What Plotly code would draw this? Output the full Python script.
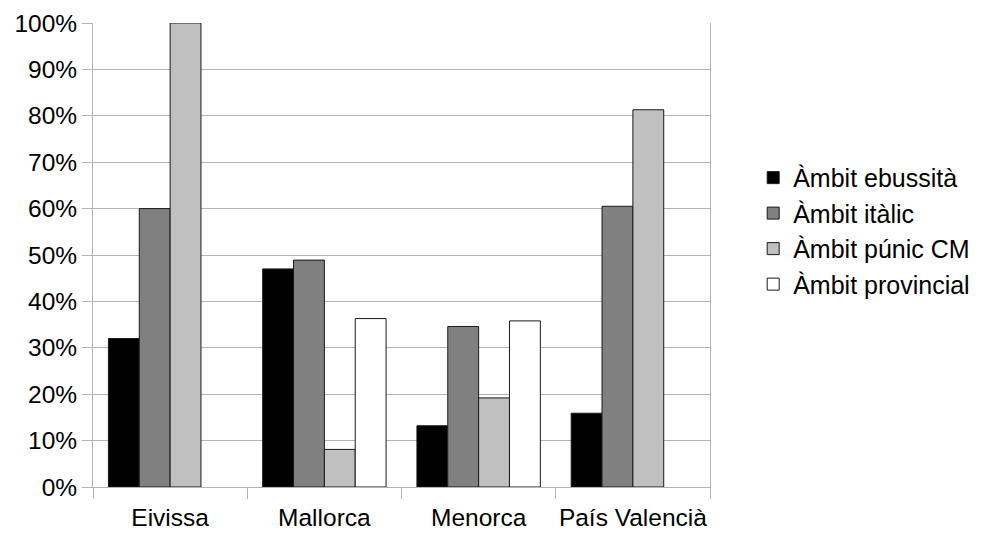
import plotly.graph_objects as go

categories = ["Eivissa", "Mallorca", "Menorca", "País Valencià"]
series_names = ["Àmbit ebussità", "Àmbit itàlic", "Àmbit púnic CM", "Àmbit provincial"]
ebussita = [32.0, 47.0, 13.2, 15.9]
italic = [60.0, 48.9, 34.6, 60.5]
punic = [100.0, 8.1, 19.2, 81.3]
provincial = [None, 36.3, 35.8, None]
colors = ["#000000", "#808080", "#c0c0c0", "#ffffff"]
y_ticks = list(range(0, 101, 10))
y_tick_labels = [f"{v}%" for v in y_ticks]

fig = go.Figure()
for name, vals, col in zip(series_names, [ebussita, italic, punic, provincial], colors):
    fig.add_trace(go.Bar(
        x=categories, y=vals, name=name,
        marker=dict(color=col, line=dict(color="#1a1a1a", width=1)),
    ))

fam = "Liberation Sans, Arial, sans-serif"
font = dict(family=fam, size=24.5, color="#000000")
fig.update_layout(
    width=975, height=525,
    margin=dict(l=85, r=273, t=15, b=46, autoexpand=False),
    paper_bgcolor="white", plot_bgcolor="white",
    barmode="group", bargap=0.2, bargroupgap=0,
    font=font,
    showlegend=True,
    legend=dict(x=1.07, y=0.552, xanchor="left", yanchor="middle",
                font=dict(family=fam, size=25, color="#000000"),
                itemclick=False, tracegroupgap=0),
    xaxis=dict(
        showline=True, linecolor="#b3b3b3", linewidth=1,
        ticks="outside", tickson="boundaries", ticklen=11, tickcolor="#b3b3b3",
        showgrid=False, tickfont=font, tickangle=0, ticklabelstandoff=9,
    ),
    yaxis=dict(
        range=[0, 100], tickvals=y_ticks, ticktext=y_tick_labels,
        showline=True, mirror=True, linecolor="#b3b3b3", linewidth=1,
        ticks="outside", ticklen=10, tickcolor="#b3b3b3",
        showgrid=True, gridcolor="#b3b3b3", gridwidth=1,
        zeroline=False, tickfont=font,
    ),
)
fig.write_html("out.html")
